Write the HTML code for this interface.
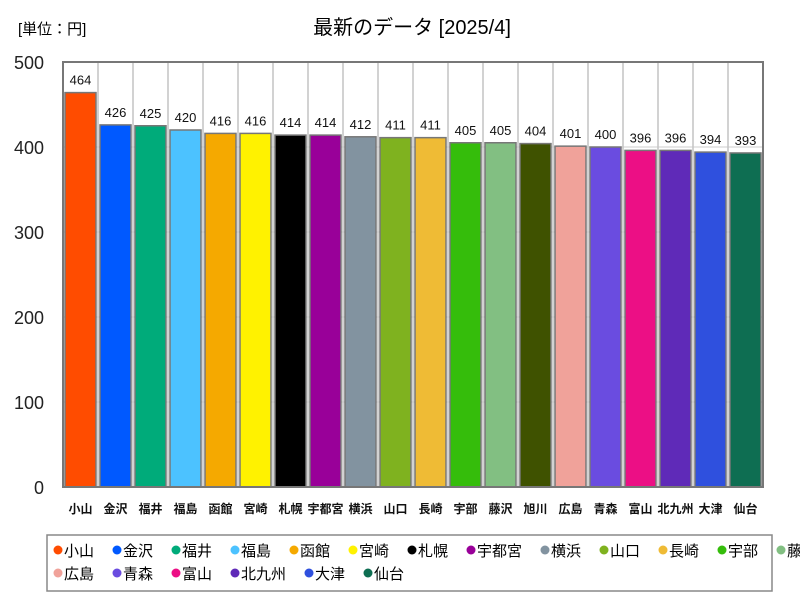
<!DOCTYPE html>
<html><head><meta charset="utf-8"><style>
body{margin:0;background:#fff;font-family:"Liberation Sans","Noto Sans CJK JP",sans-serif;}
</style></head><body>
<svg width="800" height="600" xmlns="http://www.w3.org/2000/svg" id="c" font-family="Liberation Sans, Noto Sans CJK JP, sans-serif">
<rect width="800" height="600" fill="#fff"/>
<text x="18" y="34" font-size="15">[単位：円]</text>
<text x="412" y="34" font-size="20" text-anchor="middle">最新のデータ [2025/4]</text>
<g id="g"></g>
<rect x="47" y="535" width="725" height="56" fill="none" stroke="#888" stroke-width="1.5"/>
</svg>
<script>
const categories=["小山","金沢","福井","福島","函館","宮崎","札幌","宇都宮","横浜","山口","長崎","宇部","藤沢","旭川","広島","青森","富山","北九州","大津","仙台"];
const values=[464,426,425,420,416,416,414,414,412,411,411,405,405,404,401,400,396,396,394,393];
const colors=["#ff4c00","#0059ff","#00ab7a","#4cc2ff","#f5a900","#fff200","#000000","#990099","#8293a0","#7fb21f","#efbb35","#35bd0b","#82bf82","#3f5200","#f0a29a","#6a4ce0","#ec0f85","#5f2ab8","#2f50de","#0e6e52"];
const yTicks=[0,100,200,300,400,500];
const g=document.getElementById('g');const NS="http://www.w3.org/2000/svg";
const L=63,R=763,T=62,B=487,max=500;
const y=v=>B-(B-T)*v/max;const bw=(R-L)/categories.length;const x=i=>L+i*bw;
function mk(t,a,txt){const e=document.createElementNS(NS,t);for(const k in a)e.setAttribute(k,a[k]);if(txt!==undefined)e.textContent=txt;g.appendChild(e);return e;}
yTicks.forEach(t=>{
 if(t>0&&t<500){const l=mk('line',{x1:L,x2:R,y1:y(t),y2:y(t),stroke:'#ccc','stroke-width':1});
 
 }
 const tx=mk('text',{x:44,y:y(t)+7,'font-size':18,'text-anchor':'end',fill:'#222'},t);
 
 
});
for(let i=1;i<categories.length;i++){const l=mk('line',{x1:x(i),x2:x(i),y1:T,y2:B,stroke:'#c4c4c4','stroke-width':1.5});
 
 }
categories.forEach((c,i)=>{
 const r=mk('rect',{x:x(i)+2,y:y(values[i]),width:bw-4,height:B-y(values[i]),fill:colors[i],stroke:'#777','stroke-width':1.5});
 
 
 const v=mk('text',{x:x(i)+bw/2,y:y(values[i])-8,'font-size':13,'text-anchor':'middle',fill:'#111'},values[i]);
 
 
 const lb=mk('text',{x:x(i)+bw/2,y:513,'font-size':12,'font-weight':'bold','text-anchor':'middle',fill:'#111'},c);
 
 
});
const fr=mk('rect',{x:L,y:T,width:R-L,height:B-T,fill:'none',stroke:'#777','stroke-width':2});


let lx=52,ly=550;
categories.forEach((c,i)=>{
 if(i===14){lx=52;ly=573;}
 const w=c.length*15+22;
 const it=mk('g',{});
 
 
 const d=document.createElementNS(NS,'circle');d.setAttribute('cx',lx+6);d.setAttribute('cy',ly);d.setAttribute('r',4.5);d.setAttribute('fill',colors[i]);it.appendChild(d);
 const t=document.createElementNS(NS,'text');t.setAttribute('x',lx+12);t.setAttribute('y',ly+6);t.setAttribute('font-size',15);t.textContent=c;it.appendChild(t);
 lx+=w+7;
});
</script>
</body></html>
